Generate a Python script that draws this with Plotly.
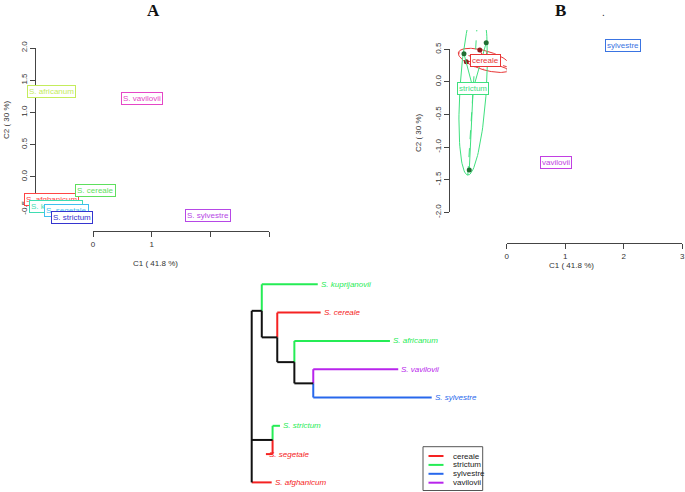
import numpy as np
import plotly.graph_objects as go

W, H = 685, 492

# ---------------- Panel A : species coordinates ----------------
a_labels = ['S. afghanicum', 'S. africanum', 'S. cereale', 'S. kuprijanovii',
            'S. segetale', 'S. strictum', 'S. sylvestre', 'S. vavilovii']
a_c1 = [-0.70, -0.70, 0.034, -0.63, -0.45, -0.36, 1.96, 0.835]
a_c2 = [-0.35, 1.332, -0.21, -0.46, -0.52, -0.635, -0.60, 1.213]
a_colors = ['#FF4545', '#C4EC5C', '#5EDF5E', '#3FDDB2', '#3FBFEF',
            '#3535CF', '#B647E6', '#E546C6']
a_xtick_vals = [0, 1, 2, 3]
a_xtick_text = ['0', '1', '', '']
a_ytick_vals = [-0.5, 0.0, 0.5, 1.0, 1.5, 2.0]
a_ytick_text = ['-0.5', '0.0', '0.5', '1.0', '1.5', '2.0']

# ---------------- Panel B : grouped coordinates ----------------
b_groups = ['cereale', 'strictum', 'sylvestre', 'vavilovii']
b_group_colors = ['#E83535', '#3FE07E', '#3A74E2', '#C23FE2']
b_point_colors = ['#8E1B1B', '#1F6E32', '#3A74E2', '#C23FE2']
b_point_group = ['cereale', 'cereale', 'cereale', 'strictum', 'strictum',
                 'strictum', 'sylvestre', 'vavilovii']
b_c1 = [-0.69, -0.46, 0.04, -0.73, -0.35, -0.64, 1.98, 0.84]
b_c2 = [0.31, 0.49, 0.19, 0.43, 0.60, -1.35, 0.56, -1.24]
b_xtick_vals = [0, 1, 2, 3]
b_xtick_text = ['0', '1', '2', '3']
b_ytick_vals = [-2.0, -1.5, -1.0, -0.5, 0.0, 0.5]
b_ytick_text = ['-2.0', '-1.5', '-1.0', '-0.5', '0.0', '0.5']

# ---------------- Panel C : tree (edges parent -> child) ----------------
tree_parent = ['root', 'n1', 'n1', 'n2', 'n2', 'n3', 'n3', 'n4', 'n4',
               'root', 'n5', 'n5', 'root']
tree_child = ['n1', 'S. kuprijanovii', 'n2', 'S. cereale', 'n3', 'S. africanum',
              'n4', 'S. vavilovii', 'S. sylvestre', 'n5', 'S. strictum',
              'S. segetale', 'S. afghanicum']
tree_length = [0.056, 0.311, 0.086, 0.241, 0.095, 0.531, 0.105, 0.472, 0.658,
               0.116, 0.041, -0.037, 0.111]
tree_group = [None, 'strictum', None, 'cereale', None, 'strictum', None,
              'vavilovii', 'sylvestre', None, 'strictum', 'cereale', 'cereale']
tip_order = ['S. kuprijanovii', 'S. cereale', 'S. africanum', 'S. vavilovii',
             'S. sylvestre', 'S. strictum', 'S. segetale', 'S. afghanicum']
c_group_colors = {'cereale': '#F52222', 'strictum': '#25EC55',
                  'sylvestre': '#2868EC', 'vavilovii': '#B824EC', None: '#111111'}

FONT = 'Liberation Sans, Arial, sans-serif'


def fx(px):
    return px / W


def fy(py):
    return 1 - py / H


fig = go.Figure()

# Panel A: x=0 at px 93, 58.7 px/unit ; y=0 at py 176.8, 64.4 px/unit
A_x0, A_xs, A_y0, A_ys = 93.0, 58.7, 176.8, 64.4
# Panel B: x=0 at px 506.7, 58.5 px/unit ; y=0 at py 81.9, 65.2 px/unit
B_x0, B_xs, B_y0, B_ys = 506.7, 58.5, 81.9, 65.2

axis_common = dict(showgrid=False, zeroline=False)
tick_axis = dict(showgrid=False, zeroline=False, showline=True, linecolor='#444',
                 linewidth=1, ticks='outside', ticklen=5, tickcolor='#444',
                 tickfont=dict(family=FONT, size=8, color='#333'), tickmode='array')

lay = dict(
    width=W, height=H, margin=dict(l=0, r=0, t=0, b=0, pad=0, autoexpand=False),
    paper_bgcolor='white', plot_bgcolor='white', showlegend=False,
    xaxis=dict(domain=[fx(35), fx(300)], range=[(35 - A_x0) / A_xs, (300 - A_x0) / A_xs],
               visible=False, anchor='y', **axis_common),
    yaxis=dict(domain=[fy(228), fy(30)], range=[(A_y0 - 228) / A_ys, (A_y0 - 30) / A_ys],
               visible=False, anchor='x', **axis_common),
    xaxis2=dict(domain=[fx(A_x0), fx(A_x0 + 3 * A_xs)], range=[0, 3], anchor='free',
                position=fy(231), tickvals=a_xtick_vals, ticktext=a_xtick_text, **tick_axis),
    yaxis2=dict(domain=[fy(A_y0 + 0.5 * A_ys), fy(A_y0 - 2.0 * A_ys)], range=[-0.5, 2.0],
                anchor='free', position=fx(35), tickvals=a_ytick_vals,
                ticktext=a_ytick_text, tickangle=-90, **tick_axis),
    xaxis3=dict(domain=[fx(440), fx(685)], range=[(440 - B_x0) / B_xs, (685 - B_x0) / B_xs],
                visible=False, anchor='y3', **axis_common),
    yaxis3=dict(domain=[fy(240), fy(30)], range=[(B_y0 - 240) / B_ys, (B_y0 - 30) / B_ys],
                visible=False, anchor='x3', **axis_common),
    xaxis4=dict(domain=[fx(B_x0), fx(B_x0 + 3 * B_xs)], range=[0, 3], anchor='free',
                position=fy(243.3), tickvals=b_xtick_vals, ticktext=b_xtick_text, **tick_axis),
    yaxis4=dict(domain=[fy(B_y0 + 2.0 * B_ys), fy(B_y0 - 0.5 * B_ys)], range=[-2.0, 0.5],
                anchor='free', position=fx(449), tickvals=b_ytick_vals,
                ticktext=b_ytick_text, tickangle=-90, **tick_axis),
    xaxis5=dict(domain=[fx(240), fx(480)], range=[(240 - 251.7) / 180, (480 - 251.7) / 180],
                visible=False, anchor='y5', **axis_common),
    yaxis5=dict(domain=[fy(492), fy(270)], range=[(492 - 284.3) / 28.3, (270 - 284.3) / 28.3],
                visible=False, anchor='x5', **axis_common),
)

annotations = []
shapes = []

for xa, ya in [('x2', 'y2'), ('x4', 'y4')]:
    fig.add_trace(go.Scatter(x=[0], y=[0], xaxis=xa, yaxis=ya, mode='markers',
                             marker=dict(opacity=0), hoverinfo='skip'))

# ---------- Panel A labels ----------
fig.add_trace(go.Scatter(x=a_c1, y=a_c2, xaxis='x', yaxis='y', mode='markers',
                         marker=dict(size=1, color='white'), hoverinfo='skip'))
for lab, x, y, c in zip(a_labels, a_c1, a_c2, a_colors):
    annotations.append(dict(x=x, y=y, xref='x', yref='y', text=lab, showarrow=False,
                            xanchor='center', yanchor='middle',
                            font=dict(family=FONT, size=8, color=c), bordercolor=c,
                            borderwidth=1, borderpad=1, bgcolor='white'))

# ---------- Panel B : stars, ellipses, points, labels ----------
b_c1a = np.array(b_c1)
b_c2a = np.array(b_c2)
grp = np.array(b_point_group)
t = np.linspace(0, 2 * np.pi, 120)
for g, gc, pc in zip(b_groups, b_group_colors, b_point_colors):
    m = grp == g
    xs, ys = b_c1a[m], b_c2a[m]
    mx, my = xs.mean(), ys.mean()
    if m.sum() > 1:
        sx, sy = [], []
        for xi, yi in zip(xs, ys):
            sx += [mx, xi, None]
            sy += [my, yi, None]
        fig.add_trace(go.Scatter(x=sx, y=sy, xaxis='x3', yaxis='y3', mode='lines',
                                 line=dict(color=gc, width=1), hoverinfo='skip'))
        cov = np.array([[((xs - mx) ** 2).mean(), ((xs - mx) * (ys - my)).mean()],
                        [((xs - mx) * (ys - my)).mean(), ((ys - my) ** 2).mean()]])
        w, v = np.linalg.eigh(cov)
        w = np.clip(w, 0, None)
        pts = np.array([[mx], [my]]) + 1.5 * (v @ (np.sqrt(w)[:, None] * np.vstack([np.cos(t), np.sin(t)])))
        fig.add_trace(go.Scatter(x=pts[0], y=pts[1], xaxis='x3', yaxis='y3', mode='lines',
                                 line=dict(color=gc, width=1), hoverinfo='skip'))
        ax_x, ax_y = [], []
        for k in range(2):
            d = 1.5 * np.sqrt(w[k]) * v[:, k]
            ax_x += [mx - d[0], mx + d[0], None]
            ax_y += [my - d[1], my + d[1], None]
        fig.add_trace(go.Scatter(x=ax_x, y=ax_y, xaxis='x3', yaxis='y3', mode='lines',
                                 line=dict(color=gc, width=1, dash='dash'), hoverinfo='skip'))
        fig.add_trace(go.Scatter(x=xs, y=ys, xaxis='x3', yaxis='y3', mode='markers',
                                 marker=dict(size=5, color=pc), hoverinfo='skip'))
    annotations.append(dict(x=mx, y=my, xref='x3', yref='y3', text=g, showarrow=False,
                            xanchor='center', yanchor='middle',
                            font=dict(family=FONT, size=8, color=gc), bordercolor=gc,
                            borderwidth=1, borderpad=1, bgcolor='white'))

# ---------- Panel C : dendrogram ----------
depth = {'root': 0.0}
for p, c, L in zip(tree_parent, tree_child, tree_length):
    depth[c] = depth[p] + L
ypos = {name: float(i) for i, name in enumerate(tip_order)}
for p in set(tree_parent):
    ypos.setdefault(p, 0.0)
changed = True
while changed:
    changed = False
    for p in set(tree_parent):
        kids = [ypos[c] for pp, c in zip(tree_parent, tree_child) if pp == p]
        val = (min(kids) + max(kids)) / 2
        if abs(ypos[p] - val) > 1e-12:
            ypos[p] = val
            changed = True

root_kids = [ypos[c] for p, c in zip(tree_parent, tree_child) if p == 'root']
seg_by_color = {c_group_colors[None]: ([], [])}
bx, by = seg_by_color[c_group_colors[None]]
bx += [depth['root'], depth['root'], None]
by += [min(root_kids), max(root_kids), None]
for p, c, g in zip(tree_parent, tree_child, tree_group):
    col = c_group_colors[g]
    sx, sy = seg_by_color.setdefault(col, ([], []))
    if p != 'root':
        sx += [depth[p], depth[p], None]
        sy += [ypos[p], ypos[c], None]
    sx += [depth[p], depth[c], None]
    sy += [ypos[c], ypos[c], None]
order = [c_group_colors[k] for k in ['cereale', 'strictum', 'sylvestre', 'vavilovii', None]]
for col in order:
    if col in seg_by_color:
        sx, sy = seg_by_color[col]
        fig.add_trace(go.Scatter(x=sx, y=sy, xaxis='x5', yaxis='y5', mode='lines',
                                 line=dict(color=col, width=2), hoverinfo='skip'))
for p, c, g in zip(tree_parent, tree_child, tree_group):
    if c in tip_order:
        annotations.append(dict(x=depth[c], y=ypos[c], xref='x5', yref='y5',
                                text='<i>' + c + '</i>', showarrow=False, xanchor='left',
                                yanchor='middle', xshift=1,
                                font=dict(family=FONT, size=8, color=c_group_colors[g])))

# ---------- Legend of panel C ----------
shapes.append(dict(type='rect', xref='paper', yref='paper', x0=fx(423), x1=fx(482.7),
                   y0=fy(490.5), y1=fy(446.7), line=dict(color='#555', width=1),
                   fillcolor='white', layer='above'))
for i, g in enumerate(b_groups):
    yy = 456 + 8.9 * i
    shapes.append(dict(type='line', xref='paper', yref='paper', x0=fx(428.5), x1=fx(443.5),
                       y0=fy(yy), y1=fy(yy), line=dict(color=c_group_colors[g], width=2),
                       layer='above'))
    annotations.append(dict(x=fx(451), y=fy(yy), xref='paper', yref='paper', text=g,
                            showarrow=False, xanchor='left', yanchor='middle',
                            font=dict(family=FONT, size=8, color='#222')))

# ---------- titles & axis titles ----------
for txt, x, y in [('A', 153, 11), ('B', 560, 11)]:
    annotations.append(dict(x=fx(x), y=fy(y), xref='paper', yref='paper', text='<b>' + txt + '</b>',
                            showarrow=False, xanchor='center', yanchor='middle',
                            font=dict(family='Liberation Serif, Times New Roman, serif',
                                      size=17, color='#111')))
annotations.append(dict(x=fx(603), y=fy(12), xref='paper', yref='paper', text='.',
                        showarrow=False, xanchor='center', yanchor='middle',
                        font=dict(family=FONT, size=10, color='#222')))
for x, y in [(155, 263), (571.7, 265.7)]:
    annotations.append(dict(x=fx(x), y=fy(y), xref='paper', yref='paper', text='C1 ( 41.8 %)',
                            showarrow=False, xanchor='center', yanchor='middle',
                            font=dict(family=FONT, size=8, color='#333')))
for x, y in [(6, 120), (419, 133)]:
    annotations.append(dict(x=fx(x), y=fy(y), xref='paper', yref='paper', text='C2 ( 30 %)',
                            textangle=-90, showarrow=False, xanchor='center', yanchor='middle',
                            font=dict(family=FONT, size=8, color='#333')))

lay['annotations'] = annotations
lay['shapes'] = shapes
fig.update_layout(**lay)
fig.write_html('out.html', config={'displayModeBar': False},
               post_script="document.body.style.margin='0px';document.body.style.padding='0px';")
